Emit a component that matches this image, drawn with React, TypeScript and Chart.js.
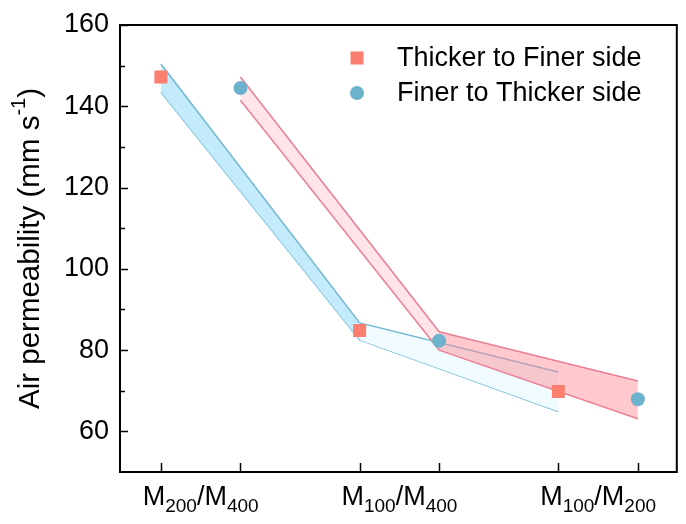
import React, { useEffect, useRef } from 'react';
import { Chart, registerables } from 'chart.js';

Chart.register(...registerables);

// ---- data ----
const categoryParts: string[][] = [
  ['M', '200', 'M', '400'],
  ['M', '100', 'M', '400'],
  ['M', '100', 'M', '200'],
];
const groupCenters = [1, 2, 3];
const squareX = [0.8, 1.8, 2.8];
const circleX = [1.2, 2.2, 3.2];
const thickerToFiner = [147.2, 84.8, 69.8];
const finerToThicker = [144.5, 82.3, 67.9];
const blueUpper = [150.4, 86.7, 74.6];
const blueLower = [143.5, 82.5, 64.9];
const pinkUpper = [147.2, 84.5, 72.4];
const pinkLower = [141.5, 80.0, 63.1];
const yTicks = [60, 80, 100, 120, 140, 160];
const yMinorTicks = [70, 90, 110, 130, 150];
const legendLabels = ['Thicker to Finer side', 'Finer to Thicker side'];

const FONT = '"Liberation Sans", Arial, sans-serif';
const SQUARE_COLOR = '#fa7f6f';
const CIRCLE_COLOR = '#6cb2cc';
const BLUE_LINE = '#6fb6d3';
const PINK_LINE = '#e97d95';

const pts = (xs: number[], ys: number[]) => xs.map((x, i) => ({ x, y: ys[i] }));

const axesPlugin = {
  id: 'axesPlugin',
  afterDatasetsDraw(chart: any) {
    const { ctx, chartArea: a, scales } = chart;
    const x = scales.x;
    const y = scales.y;
    ctx.save();
    ctx.strokeStyle = '#000';
    ctx.fillStyle = '#000';
    ctx.lineWidth = 2;
    ctx.strokeRect(a.left, a.top, a.right - a.left, a.bottom - a.top);
    ctx.lineWidth = 1.5;
    const seg = (x1: number, y1: number, x2: number, y2: number) => {
      ctx.beginPath();
      ctx.moveTo(x1, y1);
      ctx.lineTo(x2, y2);
      ctx.stroke();
    };
    yTicks.forEach((v) => {
      const py = Math.round(y.getPixelForValue(v)) + 0.5;
      seg(a.left, py, a.left + 8, py);
    });
    yMinorTicks.forEach((v) => {
      const py = Math.round(y.getPixelForValue(v)) + 0.5;
      seg(a.left, py, a.left + 5, py);
    });
    [...squareX, ...circleX].forEach((v) => {
      const px = Math.round(x.getPixelForValue(v)) + 0.5;
      seg(px, a.bottom, px, a.bottom - 9);
    });

    // y tick labels
    ctx.font = `27px ${FONT}`;
    ctx.textAlign = 'right';
    ctx.textBaseline = 'middle';
    yTicks.forEach((v) => {
      ctx.fillText(String(v), a.left - 11, y.getPixelForValue(v));
    });

    // x labels with subscripts
    const mainFont = `27px ${FONT}`;
    const subFont = `19px ${FONT}`;
    ctx.textBaseline = 'alphabetic';
    ctx.textAlign = 'left';
    categoryParts.forEach((parts, i) => {
      const pieces = [
        { t: parts[0], f: mainFont, dy: 0 },
        { t: parts[1], f: subFont, dy: 7 },
        { t: '/' + parts[2], f: mainFont, dy: 0 },
        { t: parts[3], f: subFont, dy: 7 },
      ];
      let total = 0;
      pieces.forEach((p) => {
        ctx.font = p.f;
        total += ctx.measureText(p.t).width;
      });
      let cx = x.getPixelForValue(groupCenters[i]) - total / 2;
      const base = a.bottom + 33;
      pieces.forEach((p) => {
        ctx.font = p.f;
        ctx.fillText(p.t, cx, base + p.dy);
        cx += ctx.measureText(p.t).width;
      });
    });

    // y title
    ctx.save();
    const cy = (a.top + a.bottom) / 2;
    ctx.translate(31, cy);
    ctx.rotate(-Math.PI / 2);
    const titleFont = `29.5px ${FONT}`;
    const titleSub = `20px ${FONT}`;
    const tp = [
      { t: 'Air permeability (mm s', f: titleFont, dy: 0 },
      { t: '-1', f: titleSub, dy: -12 },
      { t: ')', f: titleFont, dy: 0 },
    ];
    let tw = 0;
    tp.forEach((p) => {
      ctx.font = p.f;
      tw += ctx.measureText(p.t).width;
    });
    let tx = -tw / 2;
    ctx.textBaseline = 'middle';
    tp.forEach((p) => {
      ctx.font = p.f;
      ctx.fillText(p.t, tx, p.dy);
      tx += ctx.measureText(p.t).width;
    });
    ctx.restore();

    // legend
    ctx.font = mainFont;
    ctx.textAlign = 'left';
    ctx.textBaseline = 'middle';
    ctx.fillStyle = SQUARE_COLOR;
    ctx.fillRect(357 - 6.5, 58 - 6.5, 13, 13);
    ctx.fillStyle = CIRCLE_COLOR;
    ctx.beginPath();
    ctx.arc(357, 93, 7, 0, Math.PI * 2);
    ctx.fill();
    ctx.fillStyle = '#000';
    ctx.fillText(legendLabels[0], 397, 59);
    ctx.fillText(legendLabels[1], 397, 94);
    ctx.restore();
  },
};

export default function App() {
  const ref = useRef<HTMLCanvasElement>(null);
  useEffect(() => {
    if (!ref.current) return;
    const chart = new Chart(ref.current, {
      type: 'scatter',
      data: {
        datasets: [
          {
            label: legendLabels[0],
            data: pts(squareX, thickerToFiner),
            pointStyle: 'rect',
            pointRadius: 9.2,
            backgroundColor: SQUARE_COLOR,
            borderWidth: 0,
            showLine: false,
          },
          {
            label: legendLabels[1],
            data: pts(circleX, finerToThicker),
            pointStyle: 'circle',
            pointRadius: 7,
            backgroundColor: CIRCLE_COLOR,
            borderWidth: 0,
            showLine: false,
          },
          {
            label: 'pinkUpper',
            data: pts(circleX, pinkUpper),
            showLine: true,
            pointRadius: 0,
            borderColor: PINK_LINE,
            borderWidth: 1.5,
            fill: '+1',
            backgroundColor: 'rgba(255,150,160,0.45)',
            segment: {
              backgroundColor: (c: any) =>
                c.p0DataIndex === 0 ? 'rgba(255,150,160,0.25)' : 'rgba(255,140,150,0.47)',
            },
          },
          {
            label: 'pinkLower',
            data: pts(circleX, pinkLower),
            showLine: true,
            pointRadius: 0,
            borderColor: PINK_LINE,
            borderWidth: 1.5,
          },
          {
            label: 'blueUpper',
            data: pts(squareX, blueUpper),
            showLine: true,
            pointRadius: 0,
            borderColor: BLUE_LINE,
            borderWidth: 1.5,
            fill: '+1',
            backgroundColor: '#c3ebfb',
            segment: {
              backgroundColor: (c: any) => (c.p0DataIndex === 0 ? '#c3ebfb' : '#effbfe'),
            },
          },
          {
            label: 'blueLower',
            data: pts(squareX, blueLower),
            showLine: true,
            pointRadius: 0,
            borderColor: BLUE_LINE,
            borderWidth: 1.5,
          },
        ],
      },
      options: {
        responsive: false,
        animation: false,
        devicePixelRatio: 1,
        layout: { padding: { left: 120, top: 25, right: 9, bottom: 52 } },
        plugins: { legend: { display: false }, tooltip: { enabled: false } },
        scales: {
          x: { type: 'linear', min: 0.594, max: 3.396, display: false },
          y: { type: 'linear', min: 50, max: 160, display: false },
        },
      },
      plugins: [axesPlugin],
    } as any);
    return () => chart.destroy();
  }, []);
  return (
    <div style={{ position: 'absolute', left: 0, top: 0, width: 686, height: 524, background: '#fff' }}>
      <canvas ref={ref} width={686} height={524} style={{ display: 'block' }} />
    </div>
  );
}
